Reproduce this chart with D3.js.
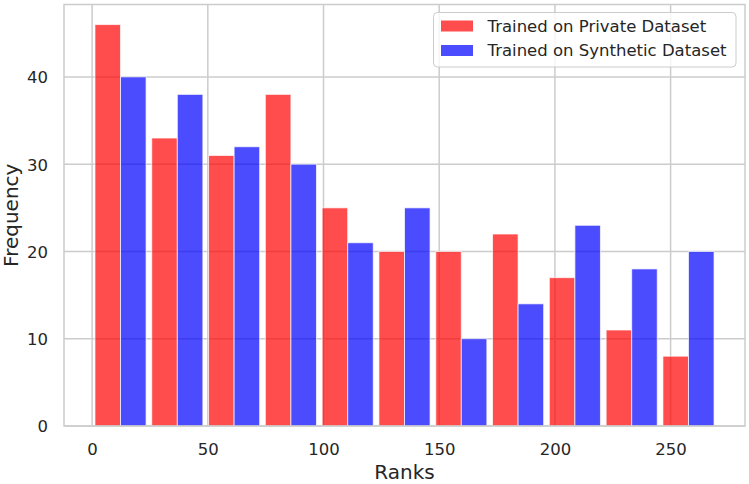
<!DOCTYPE html>
<html>
<head>
<meta charset="utf-8">
<script src="https://cdn.jsdelivr.net/npm/d3@7"></script>
<style>
  html, body { margin: 0; padding: 0; background: #fff; }
  svg { display: block; font-family: "DejaVu Sans", sans-serif; }
</style>
</head>
<body>
<svg id="chart" width="749" height="484"></svg>
<script>
// ---- data ----
const seriesNames = ["Trained on Private Dataset", "Trained on Synthetic Dataset"];
const seriesColors = ["red", "blue"];
const privateCounts = [46, 33, 31, 38, 25, 20, 20, 22, 17, 11, 8];
const syntheticCounts = [40, 38, 32, 30, 21, 25, 10, 14, 23, 18, 20];
const binStart = 0, binEnd = 270, binCount = 11;
const xTicks = [0, 50, 100, 150, 200, 250];
const yTicks = [0, 10, 20, 30, 40];
const xLabel = "Ranks", yLabel = "Frequency";

// ---- layout ----
const W = 749, H = 484;
const plot = {left: 64, right: 745, top: 4.5, bottom: 426};
const textColor = "#262626", gridColor = "#cccccc";
const rwidth = 0.9;

const binW = (binEnd - binStart) / binCount;
const bins = d3.range(binCount).map(i => binStart + i * binW);
const barW = rwidth * binW / 2;
const off = (1 - rwidth) / 2 * binW;
const dataMin = binStart + off, dataMax = binEnd - off;
const pad = 0.05 * (dataMax - dataMin);
const yMax = d3.max([...privateCounts, ...syntheticCounts]) * 1.05;

const x = d3.scaleLinear().domain([dataMin - pad, dataMax + pad]).range([plot.left, plot.right]);
const y = d3.scaleLinear().domain([0, yMax]).range([plot.bottom, plot.top]);

const svg = d3.select("#chart");

// grid
const g = svg.append("g");
g.selectAll(".vg").data(xTicks).join("line")
  .attr("x1", d => x(d)).attr("x2", d => x(d))
  .attr("y1", plot.top).attr("y2", plot.bottom)
  .attr("stroke", gridColor).attr("stroke-width", 1.5);
g.selectAll(".hg").data(yTicks).join("line")
  .attr("x1", plot.left).attr("x2", plot.right)
  .attr("y1", d => y(d)).attr("y2", d => y(d))
  .attr("stroke", gridColor).attr("stroke-width", 1.5);

// bars
const series = [privateCounts, syntheticCounts];
series.forEach((vals, si) => {
  svg.append("g").selectAll("rect").data(vals).join("rect")
    .attr("x", (d, i) => x(bins[i] + off + si * barW))
    .attr("width", x(barW) - x(0))
    .attr("y", d => y(d))
    .attr("height", d => y(0) - y(d))
    .attr("fill", seriesColors[si]).attr("fill-opacity", 0.7)
    .attr("stroke", "#fff").attr("stroke-opacity", 0.7).attr("stroke-width", 1);
});

// frame
svg.append("rect")
  .attr("x", plot.left).attr("y", plot.top)
  .attr("width", plot.right - plot.left).attr("height", plot.bottom - plot.top)
  .attr("fill", "none").attr("stroke", gridColor).attr("stroke-width", 1.5);

// axes (labels only, seaborn whitegrid has no tick marks)
const xAxis = d3.axisBottom(x).tickValues(xTicks).tickSize(0).tickPadding(0);
const xa = svg.append("g").attr("transform", `translate(0,${plot.bottom})`).call(xAxis);
xa.select(".domain").remove();
xa.selectAll("text").attr("y", 28.5).attr("dy", 0).attr("fill", textColor)
  .style("font-size", "16.5px").style("font-family", "DejaVu Sans");

const yAxis = d3.axisLeft(y).tickValues(yTicks).tickSize(0).tickPadding(0);
const ya = svg.append("g").attr("transform", `translate(${plot.left},0)`).call(yAxis);
ya.select(".domain").remove();
ya.selectAll("text").attr("x", -16).attr("dy", "0.36em").attr("fill", textColor)
  .style("font-size", "16.5px").style("font-family", "DejaVu Sans");

// axis labels
svg.append("text").attr("x", (plot.left + plot.right) / 2).attr("y", 479)
  .attr("text-anchor", "middle").attr("fill", textColor)
  .style("font-size", "20px").text(xLabel);
svg.append("text")
  .attr("transform", `translate(18,${(plot.top + plot.bottom) / 2}) rotate(-90)`)
  .attr("text-anchor", "middle").attr("fill", textColor)
  .style("font-size", "20px").text(yLabel);

// legend
const lg = svg.append("g");
lg.append("rect").attr("x", 433.5).attr("y", 12.5).attr("width", 302.5).attr("height", 54.5)
  .attr("rx", 4).attr("fill", "#fff").attr("fill-opacity", 0.8)
  .attr("stroke", gridColor).attr("stroke-width", 1);
seriesNames.forEach((name, i) => {
  const cy = 26 + i * 24.5;
  lg.append("rect").attr("x", 441).attr("y", cy - 5.5).attr("width", 32).attr("height", 11)
    .attr("fill", seriesColors[i]).attr("fill-opacity", 0.7);
  lg.append("text").attr("x", 487.5).attr("y", cy).attr("dy", "0.36em")
    .attr("fill", textColor).style("font-size", "16.5px").text(name);
});
</script>
</body>
</html>
